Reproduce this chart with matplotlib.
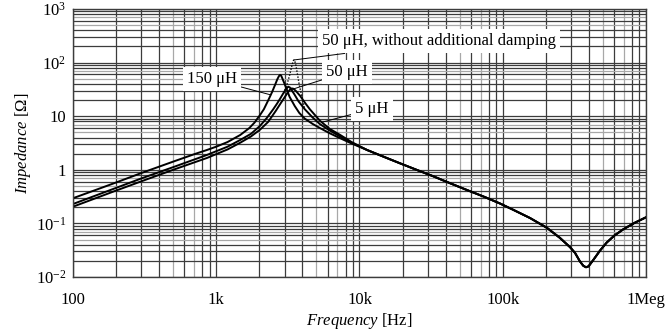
import numpy as np
import matplotlib
matplotlib.use("Agg")
import matplotlib.pyplot as plt
from matplotlib.ticker import LogLocator, FuncFormatter, NullFormatter

plt.rcParams['font.family'] = ['Liberation Serif', 'DejaVu Serif']
plt.rcParams['mathtext.fontset'] = 'custom'
plt.rcParams['mathtext.rm'] = 'Liberation Serif'
plt.rcParams['mathtext.it'] = 'Liberation Serif:italic'

# impedance curves (f in Hz, Z in ohm)
f150 = [100, 200, 300, 500, 700, 860, 1000, 1200, 1470, 1700, 1850, 2020, 2150, 2310, 2450,
        2570, 2670, 2740, 2790, 2840, 2900, 3000, 3100, 3250, 3530, 3800, 4150, 4700, 5300,
        6200, 7300, 8800]
z150 = [0.295, 0.58, 0.87, 1.42, 1.95, 2.34, 2.7, 3.3, 4.46, 6.0, 7.6, 10.5, 13.5, 20, 28,
        38, 49, 56, 59, 57, 50, 40, 32, 23, 15.5, 11.5, 9, 7.2, 6.0,
        4.8, 3.9, 3.1]

f50 = [100, 200, 300, 500, 860, 1200, 1470, 1750, 2020, 2250, 2500, 2650, 2800, 2920, 3020,
       3100, 3180, 3260, 3350, 3530, 3750, 4150, 4700, 5300, 6200, 7300, 8800]
z50 = [0.23, 0.46, 0.69, 1.12, 1.89, 2.7, 3.6, 4.7, 6.6, 9.2, 13.5, 17, 21.5, 26, 30,
       33, 35.5, 34.5, 31, 25, 19, 13.5, 9.5, 7.1, 5.4, 4.2, 3.2]

f5 = [100, 200, 300, 500, 860, 1200, 1470, 1750, 2020, 2300, 2600, 2800, 3000, 3150, 3260,
      3360, 3460, 3600, 3850, 4150, 4500, 5300, 6200, 7300, 8800]
z5 = [0.205, 0.41, 0.61, 1.0, 1.66, 2.4, 3.2, 4.2, 5.6, 7.8, 12.5, 17, 22.5, 27.5, 31,
      33, 32.5, 29.5, 24, 18, 13.5, 8.2, 5.8, 4.5, 3.3]

# common high-frequency part (all curves coincide)
f_hf = [11300, 15000, 19200, 25000, 32600, 43000, 56200, 75000, 95700, 118000, 155000,
        203000, 250000, 295000, 320000, 346000, 365000, 381000, 397000, 427000, 477000,
        532000, 600000, 691000, 830000, 1000000]
z_hf = [2.34, 1.72, 1.32, 1.0, 0.76, 0.56, 0.42, 0.31, 0.235, 0.18, 0.126,
        0.083, 0.054, 0.036, 0.028, 0.0195, 0.0162, 0.0152, 0.0158, 0.0205, 0.031,
        0.044, 0.059, 0.077, 0.102, 0.13]

# 50 uH without additional damping (resonance part only)
fnd = [2950, 3100, 3250, 3380, 3450, 3490, 3530, 3600, 3700, 3800, 3950, 4150]
znd = [27, 37, 58, 90, 108, 112, 108, 88, 58, 38, 24, 13.5]

xticks = [100, 1e3, 1e4, 1e5, 1e6]
xlabels = ['100', '1k', '10k', '100k', '1Meg']
ylabels = ['$10^{-2}$', '$10^{-1}$', '1', '10', '$10^{2}$', '$10^{3}$']

fig = plt.figure(figsize=(6.68, 3.30), dpi=100)
ax = fig.add_axes([73/668, 1-277/330, 573/668, 268/330])
ax.set_xscale('log')
ax.set_yscale('log')
ax.set_xlim(100, 1e6)
ax.set_ylim(1e-2, 1e3)

ax.xaxis.set_major_locator(LogLocator(base=10, numticks=10))
ax.yaxis.set_major_locator(LogLocator(base=10, numticks=10))
ax.xaxis.set_minor_locator(LogLocator(base=10, subs=np.arange(2, 10), numticks=20))
ax.yaxis.set_minor_locator(LogLocator(base=10, subs=np.arange(2, 10), numticks=20))
ax.xaxis.set_minor_formatter(NullFormatter())
ax.yaxis.set_minor_formatter(NullFormatter())
ax.xaxis.set_major_formatter(FuncFormatter(lambda v, p: dict(zip(xticks, xlabels)).get(v, '')))
ax.yaxis.set_major_formatter(FuncFormatter(
    lambda v, p: ylabels[int(round(np.log10(v))) + 2] if 1e-2 <= v <= 1e3 else ''))

dark = '#3c3c3c'
light = '#a8a8a8'
ax.grid(True, which='major', color=dark, lw=0.9)
ax.grid(True, which='minor', color=dark, lw=0.9)
for axis in (ax.xaxis, ax.yaxis):
    locs = axis.get_minorticklocs()
    for loc, t in zip(locs, axis.get_minor_ticks(len(locs))):
        m = int(round(loc / 10**np.floor(np.log10(loc) + 1e-9)))
        if m in (5, 7):
            t.gridline.set_color(light)
ax.set_axisbelow(True)
ax.tick_params(which='both', length=0, labelsize=12)
ax.tick_params(axis='x', pad=11)
ax.tick_params(axis='y', pad=5)
for s in ax.spines.values():
    s.set_color(dark)
    s.set_linewidth(1.0)

ax.plot(f150 + f_hf, z150 + z_hf, color='black', lw=1.4)
ax.plot(f50 + f_hf, z50 + z_hf, color='black', lw=1.4)
ax.plot(f5 + f_hf, z5 + z_hf, color='black', lw=1.4)
ax.plot(fnd, znd, color='black', lw=1.0, ls=(0, (1, 1.2)))

box = dict(boxstyle='square,pad=0.25', fc='white', ec='none')
line = dict(arrowstyle='-', color='black', lw=0.7, shrinkA=0, shrinkB=0)
ax.annotate('50 μH, without additional damping', xy=(3490, 112), xytext=(5500, 250),
            ha='left', va='center', fontsize=12, bbox=box, arrowprops=line)
ax.annotate('150 μH', xy=(2400, 25), xytext=(934, 49), ha='center', va='center',
            fontsize=12, bbox=box, arrowprops=line)
ax.annotate('50 μH', xy=(3300, 31), xytext=(8200, 67), ha='center', va='center',
            fontsize=12, bbox=box, arrowprops=line)
ax.annotate('5 μH', xy=(5560, 7.8), xytext=(12200, 13.6), ha='center', va='center',
            fontsize=12, bbox=box, arrowprops=line)

ax.set_xlabel('$\\mathit{Frequency}$ [Hz]', fontsize=12, labelpad=2)
ax.set_ylabel('$\\mathit{Impedance}$ [Ω]', fontsize=12, labelpad=2)

fig.savefig('out.png', dpi=100)
